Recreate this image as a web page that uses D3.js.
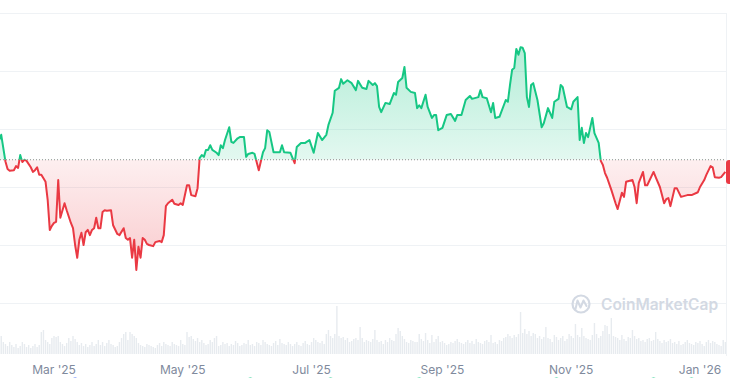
<!DOCTYPE html>
<html>
<head>
    <title>Price chart</title>
    <style>
        body { margin: 0; background: #fff; }
        text { font-family: Inter, "Noto Sans", Arial, sans-serif; }
    </style>
    <script src="https://cdn.jsdelivr.net/npm/d3@7/dist/d3.min.js"></script>
</head>
<body>
    <svg id="chart"></svg>

    <script>
        // daily close (date, price)
        const priceSeries = [
            ["2025-02-03", 48.1], ["2025-02-04", 49.0], ["2025-02-06", 44.4], ["2025-02-07", 43.1], ["2025-02-08", 42.8],
            ["2025-02-10", 42.9], ["2025-02-11", 43.6], ["2025-02-12", 43.3], ["2025-02-13", 45.5], ["2025-02-14", 44.3],
            ["2025-02-15", 44.7], ["2025-02-16", 44.5], ["2025-02-18", 43.4], ["2025-02-19", 42.6], ["2025-02-20", 42.9],
            ["2025-02-21", 43.4], ["2025-02-22", 42.1], ["2025-02-23", 42.1], ["2025-02-25", 40.9], ["2025-02-26", 37.8],
            ["2025-02-27", 32.6], ["2025-02-28", 33.3], ["2025-03-01", 33.8], ["2025-03-02", 34.0], ["2025-03-03", 41.2],
            ["2025-03-04", 34.7], ["2025-03-06", 37.2], ["2025-03-07", 36.0], ["2025-03-09", 33.8], ["2025-03-10", 32.9],
            ["2025-03-11", 30.0], ["2025-03-12", 27.8], ["2025-03-13", 30.9], ["2025-03-14", 32.1], ["2025-03-15", 30.0],
            ["2025-03-16", 32.2], ["2025-03-17", 32.6], ["2025-03-18", 31.7], ["2025-03-19", 32.6], ["2025-03-20", 32.9],
            ["2025-03-21", 34.7], ["2025-03-22", 32.9], ["2025-03-23", 32.9], ["2025-03-24", 35.7], ["2025-03-25", 36.0],
            ["2025-03-26", 35.9], ["2025-03-28", 36.0], ["2025-03-29", 33.4], ["2025-03-31", 31.9], ["2025-04-01", 31.7],
            ["2025-04-03", 32.9], ["2025-04-04", 31.2], ["2025-04-05", 30.9], ["2025-04-06", 31.2], ["2025-04-07", 27.8],
            ["2025-04-08", 30.9], ["2025-04-09", 25.7], ["2025-04-10", 29.7], ["2025-04-11", 27.8], ["2025-04-12", 31.2],
            ["2025-04-13", 30.9], ["2025-04-14", 30.2], ["2025-04-15", 30.0], ["2025-04-17", 29.8], ["2025-04-18", 30.5],
            ["2025-04-20", 30.7], ["2025-04-21", 30.5], ["2025-04-22", 31.7], ["2025-04-23", 36.7], ["2025-04-24", 37.2],
            ["2025-04-26", 37.8], ["2025-04-27", 37.1], ["2025-04-29", 36.9], ["2025-04-30", 37.2], ["2025-05-01", 36.9],
            ["2025-05-03", 40.3], ["2025-05-04", 40.3], ["2025-05-05", 38.6], ["2025-05-07", 38.4], ["2025-05-08", 39.8],
            ["2025-05-09", 45.0], ["2025-05-10", 45.5], ["2025-05-11", 45.2], ["2025-05-12", 46.4], ["2025-05-13", 46.4],
            ["2025-05-14", 47.2], ["2025-05-15", 46.4], ["2025-05-17", 45.9], ["2025-05-18", 45.5], ["2025-05-19", 47.2],
            ["2025-05-20", 46.7], ["2025-05-21", 48.1], ["2025-05-23", 50.3], ["2025-05-24", 47.8], ["2025-05-25", 47.6],
            ["2025-05-27", 48.4], ["2025-05-28", 48.6], ["2025-05-30", 48.6], ["2025-05-31", 45.2], ["2025-06-01", 45.7],
            ["2025-06-03", 45.9], ["2025-06-04", 45.7], ["2025-06-06", 42.9], ["2025-06-08", 46.0], ["2025-06-09", 46.7],
            ["2025-06-10", 49.8], ["2025-06-11", 49.5], ["2025-06-13", 46.0], ["2025-06-15", 46.0], ["2025-06-16", 46.0],
            ["2025-06-17", 47.2], ["2025-06-18", 46.0], ["2025-06-21", 45.9], ["2025-06-23", 44.1], ["2025-06-24", 46.9],
            ["2025-06-26", 47.6], ["2025-06-28", 47.6], ["2025-06-30", 48.1], ["2025-07-02", 45.9], ["2025-07-04", 49.3],
            ["2025-07-06", 48.1], ["2025-07-08", 49.0], ["2025-07-09", 50.7], ["2025-07-11", 52.8], ["2025-07-12", 56.6],
            ["2025-07-14", 57.1], ["2025-07-15", 58.6], ["2025-07-16", 57.8], ["2025-07-18", 58.4], ["2025-07-20", 57.9],
            ["2025-07-22", 56.7], ["2025-07-23", 58.3], ["2025-07-25", 57.1], ["2025-07-27", 56.9], ["2025-07-28", 58.3],
            ["2025-07-30", 57.6], ["2025-07-31", 57.9], ["2025-08-01", 57.4], ["2025-08-02", 53.8], ["2025-08-03", 52.9],
            ["2025-08-05", 54.5], ["2025-08-07", 54.3], ["2025-08-09", 56.2], ["2025-08-10", 55.9], ["2025-08-11", 58.1],
            ["2025-08-13", 58.8], ["2025-08-14", 60.7], ["2025-08-15", 57.1], ["2025-08-17", 56.4], ["2025-08-19", 56.2],
            ["2025-08-20", 53.6], ["2025-08-21", 54.1], ["2025-08-22", 53.6], ["2025-08-24", 55.9], ["2025-08-25", 53.8],
            ["2025-08-27", 51.9], ["2025-08-28", 52.4], ["2025-08-29", 52.4], ["2025-08-30", 49.8], ["2025-09-01", 50.2],
            ["2025-09-03", 52.4], ["2025-09-05", 52.6], ["2025-09-07", 51.4], ["2025-09-08", 52.4], ["2025-09-10", 52.4],
            ["2025-09-12", 55.0], ["2025-09-14", 55.7], ["2025-09-15", 55.2], ["2025-09-18", 55.5], ["2025-09-19", 56.7],
            ["2025-09-20", 55.5], ["2025-09-22", 55.3], ["2025-09-24", 52.9], ["2025-09-25", 54.5], ["2025-09-26", 51.9],
            ["2025-09-28", 52.1], ["2025-10-01", 55.0], ["2025-10-02", 54.7], ["2025-10-03", 57.6], ["2025-10-04", 60.2],
            ["2025-10-05", 60.5], ["2025-10-06", 63.8], ["2025-10-07", 62.8], ["2025-10-08", 64.1], ["2025-10-09", 64.0],
            ["2025-10-10", 63.1], ["2025-10-11", 55.5], ["2025-10-12", 53.8], ["2025-10-13", 57.6], ["2025-10-14", 57.9],
            ["2025-10-16", 55.0], ["2025-10-18", 50.3], ["2025-10-19", 51.0], ["2025-10-21", 53.6], ["2025-10-23", 51.9],
            ["2025-10-24", 54.7], ["2025-10-26", 55.2], ["2025-10-27", 57.6], ["2025-10-28", 57.2], ["2025-10-30", 53.8],
            ["2025-11-01", 53.4], ["2025-11-02", 54.7], ["2025-11-04", 55.5], ["2025-11-05", 48.1], ["2025-11-06", 50.2],
            ["2025-11-07", 47.6], ["2025-11-08", 49.3], ["2025-11-09", 48.6], ["2025-11-11", 51.9], ["2025-11-12", 49.3],
            ["2025-11-14", 47.6], ["2025-11-15", 44.5], ["2025-11-16", 43.8], ["2025-11-17", 42.4], ["2025-11-18", 41.6],
            ["2025-11-20", 39.5], ["2025-11-22", 37.2], ["2025-11-23", 36.2], ["2025-11-25", 39.0], ["2025-11-26", 38.3],
            ["2025-11-27", 40.9], ["2025-11-30", 41.2], ["2025-12-01", 40.0], ["2025-12-02", 37.2], ["2025-12-03", 40.7],
            ["2025-12-05", 42.6], ["2025-12-06", 40.3], ["2025-12-07", 40.3], ["2025-12-10", 42.6], ["2025-12-11", 41.7],
            ["2025-12-13", 40.0], ["2025-12-14", 38.6], ["2025-12-15", 37.2], ["2025-12-16", 37.9], ["2025-12-17", 38.1],
            ["2025-12-18", 36.7], ["2025-12-20", 39.8], ["2025-12-21", 39.8], ["2025-12-23", 38.3], ["2025-12-26", 38.6],
            ["2025-12-28", 38.6], ["2025-12-31", 39.1], ["2026-01-01", 40.0], ["2026-01-03", 41.2], ["2026-01-04", 42.1],
            ["2026-01-06", 43.6], ["2026-01-07", 43.4], ["2026-01-08", 41.7], ["2026-01-10", 41.6], ["2026-01-11", 41.7],
            ["2026-01-13", 42.6]
        ];

        // reference price (start of period) -> dotted line
        const basePrice = 44.7;

        // daily volume (millions), starting at volumeStart
        const volumeStart = "2025-02-03";
        const volumes = [
            320,180,120,100,80,120,90,70,100,60,80,120,100,70,90,60,80,100,70,90,
            220,240,140,120,100,160,180,170,180,120,100,80,110,160,130,180,150,120,90,110,
            80,100,70,90,120,80,100,140,90,120,80,110,140,100,90,70,80,120,160,200,
            220,140,220,200,180,160,110,90,80,70,100,90,80,70,60,90,110,80,120,100,
            90,80,120,100,90,80,140,100,90,220,170,180,150,130,160,120,140,110,90,100,
            140,120,160,180,80,90,120,100,110,80,100,90,130,110,80,90,110,100,140,90,
            100,80,120,110,90,140,120,100,90,80,110,130,90,150,110,100,90,120,100,80,
            100,120,90,80,110,130,100,90,120,160,140,120,110,130,100,200,240,180,160,200,
            480,180,160,170,140,160,120,130,150,160,140,270,160,120,140,130,120,150,240,140,
            120,130,100,140,120,160,140,130,200,260,230,180,150,120,110,140,130,120,120,200,
            150,130,210,140,110,190,120,150,180,120,130,110,90,100,120,110,130,150,120,110,
            100,120,140,110,130,100,150,120,110,100,130,140,120,190,110,120,100,140,130,160,
            170,200,180,160,190,170,200,420,210,250,200,230,180,210,200,160,180,150,170,270,
            160,150,120,190,170,140,160,180,130,150,200,180,160,300,190,170,260,180,160,150,
            140,190,310,200,160,180,230,290,280,200,360,180,170,160,140,190,150,130,170,160,
            240,180,150,160,130,140,120,150,160,130,140,220,150,130,110,140,120,130,150,110,
            120,100,130,90,100,120,140,110,100,90,120,110,130,100,80,120,140,110,130,120,
            100,90,80,140,120
        ];

        const tickDates = ["2025-03-01", "2025-05-01", "2025-07-01", "2025-09-01", "2025-11-01", "2026-01-01"];
        const priceTicks = [20, 30, 40, 50, 60, 70];

        // news markers along the bottom edge
        const events = [
            ["2025-03-11", "blue"], ["2025-06-02", "green"], ["2025-07-10", "green"], ["2025-08-21", "green"],
            ["2025-10-25", "green"], ["2025-12-10", "green"], ["2025-12-28", "green"]
        ];

        const width = 730;
        const height = 378;
        const green = "#16c784";
        const red = "#ea3943";
        const parse = d3.utcParse("%Y-%m-%d");

        const data = priceSeries.map(d => ({ date: parse(d[0]), price: d[1] }));

        const svg = d3.select('#chart')
            .attr('width', width)
            .attr('height', height);

        const x = d3.scaleUtc()
            .domain([parse("2025-03-01"), parse("2026-01-01")])
            .range([54, 700]);

        const y = d3.scaleLinear()
            .domain([20, 70])
            .range([303, 13]);

        const yVol = d3.scaleLinear()
            .domain([0, 640])
            .range([354, 290]);

        const rightEdge = 726;
        const yBase = y(basePrice);

        // grid
        svg.append('g')
            .selectAll('line')
            .data(priceTicks)
            .enter().append('line')
            .attr('x1', 0)
            .attr('x2', rightEdge)
            .attr('y1', d => Math.round(y(d)) + 0.5)
            .attr('y2', d => Math.round(y(d)) + 0.5)
            .attr('stroke', '#eff2f5')
            .attr('stroke-width', 1);

        svg.append('line')
            .attr('x1', rightEdge + 0.5).attr('x2', rightEdge + 0.5)
            .attr('y1', Math.round(y(70))).attr('y2', 356)
            .attr('stroke', '#eff2f5');

        // volume
        const vStart = parse(volumeStart);
        svg.append('g')
            .selectAll('rect')
            .data(volumes)
            .enter().append('rect')
            .attr('x', (d, i) => x(d3.utcDay.offset(vStart, i)) - 0.7)
            .attr('width', 1.4)
            .attr('y', d => yVol(d))
            .attr('height', d => yVol(0) - yVol(d))
            .attr('fill', '#e7ebef');

        // watermark
        const wm = svg.append('g').attr('fill', 'none').attr('stroke', '#d3d9e3');
        wm.append('circle')
            .attr('cx', 581).attr('cy', 304).attr('r', 8.5)
            .attr('stroke-width', 2.2);
        wm.append('path')
            .attr('d', 'M575.5,309 L577.5,300.5 L580.5,307.5 L583.5,300.5 L586.5,306')
            .attr('stroke-width', 2)
            .attr('stroke-linejoin', 'round')
            .attr('stroke-linecap', 'round');
        svg.append('text')
            .attr('x', 601)
            .attr('y', 310)
            .attr('font-size', 15.5)
            .attr('font-weight', 600)
            .attr('fill', '#d3d9e3')
            .text('CoinMarketCap');

        // clip + gradients
        const defs = svg.append('defs');
        defs.append('clipPath').attr('id', 'above')
            .append('rect').attr('x', 0).attr('y', 0).attr('width', width).attr('height', yBase);
        defs.append('clipPath').attr('id', 'below')
            .append('rect').attr('x', 0).attr('y', yBase).attr('width', width).attr('height', height - yBase);

        const gUp = defs.append('linearGradient').attr('id', 'gUp')
            .attr('gradientUnits', 'userSpaceOnUse')
            .attr('x1', 0).attr('x2', 0).attr('y1', y(64)).attr('y2', yBase);
        gUp.append('stop').attr('offset', 0).attr('stop-color', green).attr('stop-opacity', 0.32);
        gUp.append('stop').attr('offset', 1).attr('stop-color', green).attr('stop-opacity', 0.12);

        const gDown = defs.append('linearGradient').attr('id', 'gDown')
            .attr('gradientUnits', 'userSpaceOnUse')
            .attr('x1', 0).attr('x2', 0).attr('y1', yBase).attr('y2', y(26));
        gDown.append('stop').attr('offset', 0).attr('stop-color', red).attr('stop-opacity', 0.08);
        gDown.append('stop').attr('offset', 1).attr('stop-color', red).attr('stop-opacity', 0.26);

        const area = d3.area()
            .x(d => x(d.date))
            .y0(yBase)
            .y1(d => y(d.price));

        const line = d3.line()
            .x(d => x(d.date))
            .y(d => y(d.price));

        svg.append('path').datum(data)
            .attr('d', area).attr('fill', 'url(#gUp)').attr('clip-path', 'url(#above)');
        svg.append('path').datum(data)
            .attr('d', area).attr('fill', 'url(#gDown)').attr('clip-path', 'url(#below)');

        // dotted reference line
        svg.append('line')
            .attr('x1', 0).attr('x2', rightEdge)
            .attr('y1', yBase).attr('y2', yBase)
            .attr('stroke', '#8c8c8c')
            .attr('stroke-width', 1)
            .attr('stroke-dasharray', '1,2');

        svg.append('path').datum(data)
            .attr('d', line).attr('fill', 'none')
            .attr('stroke', green).attr('stroke-width', 2)
            .attr('stroke-linejoin', 'round')
            .attr('clip-path', 'url(#above)');
        svg.append('path').datum(data)
            .attr('d', line).attr('fill', 'none')
            .attr('stroke', red).attr('stroke-width', 2)
            .attr('stroke-linejoin', 'round')
            .attr('clip-path', 'url(#below)');

        // current price tag (cut off at the right edge)
        const last = data[data.length - 1];
        svg.append('rect')
            .attr('x', rightEdge)
            .attr('y', y(last.price) - 12)
            .attr('width', 40)
            .attr('height', 24)
            .attr('rx', 3)
            .attr('fill', red);

        // x axis labels
        const fmt = d3.utcFormat("%b '%y");
        svg.append('g')
            .selectAll('text')
            .data(tickDates.map(parse))
            .enter().append('text')
            .attr('x', d => x(d))
            .attr('y', 374)
            .attr('text-anchor', 'middle')
            .attr('font-size', 12)
            .attr('fill', '#808a9d')
            .text(d => fmt(d));

        // event markers
        svg.append('g')
            .selectAll('circle')
            .data(events)
            .enter().append('circle')
            .attr('cx', d => x(parse(d[0])))
            .attr('cy', 381)
            .attr('r', 3.5)
            .attr('fill', d => d[1] === 'blue' ? '#3861fb' : green);
    </script>
</body>
</html>
